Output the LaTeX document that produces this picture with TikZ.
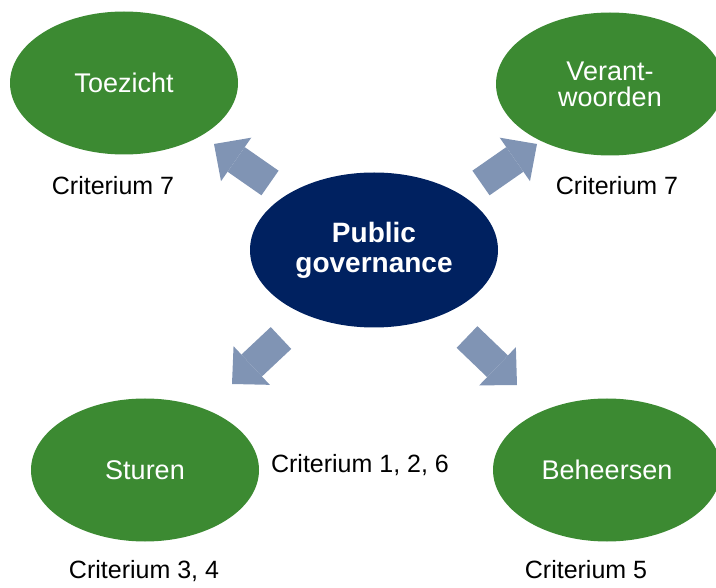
\documentclass[tikz,border=0pt]{standalone}
\usepackage{fontspec}
\setmainfont{Liberation Sans}
\usetikzlibrary{shapes.geometric, arrows.meta}
\definecolor{groen}{RGB}{60,138,50}
\definecolor{marine}{RGB}{0,33,96}
\definecolor{grijsblauw}{RGB}{128,148,180}

\tikzset{
  fase/.style={ellipse, fill=groen, text=white, inner sep=0pt, minimum width=228pt, minimum height=143pt, align=center, font=\fontsize{27}{26}\selectfont},
  kern/.style={ellipse, fill=marine, text=white, inner sep=0pt, minimum width=248pt, minimum height=155pt, align=center, font=\bfseries\fontsize{28}{30}\selectfont},
  crit/.style={anchor=base, inner sep=0pt, font=\fontsize{25}{30}\selectfont},
  pijl/.style={draw=grijsblauw, line width=30pt, -{Triangle[length=27pt, width=53pt, line width=0pt]}}
}

\begin{document}
\begin{tikzpicture}[x=1pt, y=-1pt]
  \useasboundingbox (0,0) rectangle (716,588);
  % ellipsen
  \node[kern] (pg) at (374,250) {Public\\governance};
  \node[fase] (toe) at (124,83) {Toezicht};
  \node[fase] (ver) at (610,84) {Verant-\\woorden};
  \node[fase] (stu) at (145,470) {Sturen};
  \node[fase] (beh) at (607,470) {Beheersen};
  % criteria
  \node[crit] (c7a) at (113,195) {Criterium 7};
  \node[crit] (c7b) at (617,195) {Criterium 7};
  \node[crit] (c126) at (360,472) {Criterium 1, 2, 6};
  \node[crit] (c34) at (144,578) {Criterium 3, 4};
  \node[crit] (c5) at (586,578) {Criterium 5};
  % pijlen
  \coordinate (s1) at (270,183); \coordinate (e1) at (214,144);
  \coordinate (s2) at (481,183); \coordinate (e2) at (537,144);
  \coordinate (s3) at (281,338); \coordinate (e3) at (232,384);
  \coordinate (s4) at (467,337); \coordinate (e4) at (517,385);
  \draw[pijl] (s1) -- (e1);
  \draw[pijl] (s2) -- (e2);
  \draw[pijl] (s3) -- (e3);
  \draw[pijl] (s4) -- (e4);
\end{tikzpicture}
\end{document}
